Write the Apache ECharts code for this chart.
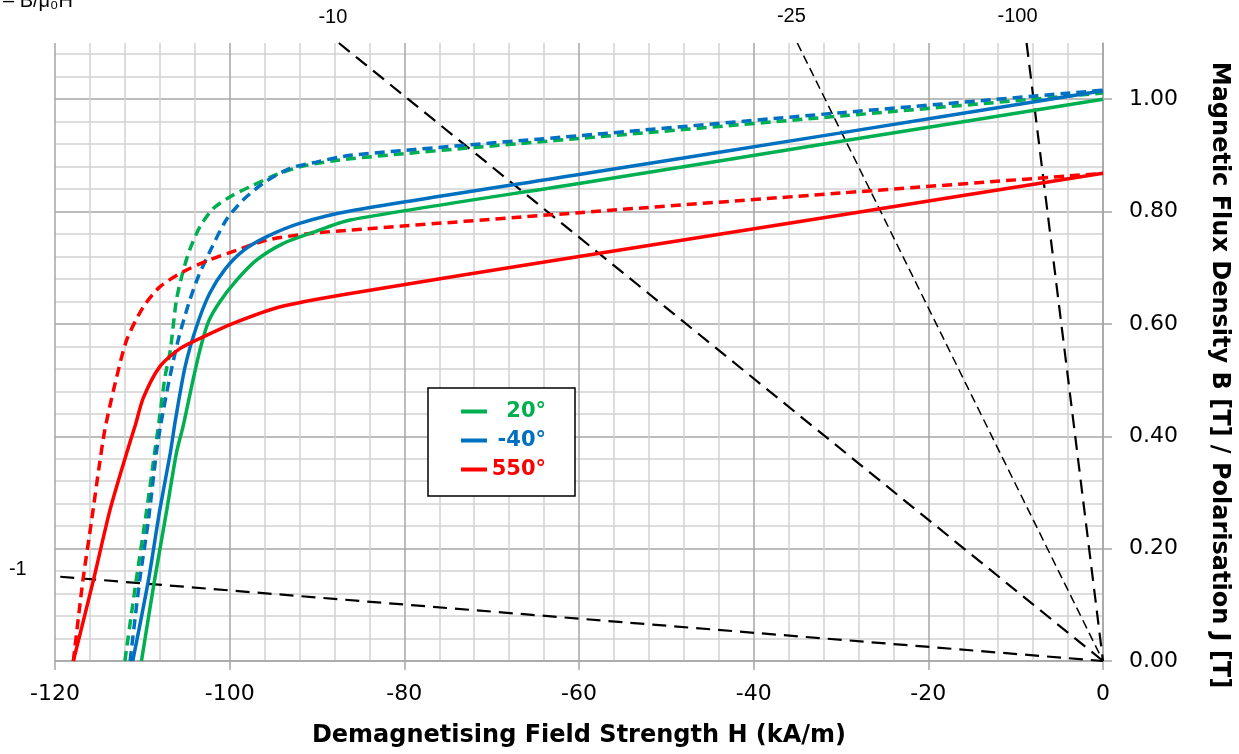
<!DOCTYPE html>
<html>
<head>
<meta charset="utf-8">
<script src="https://cdn.jsdelivr.net/npm/echarts@6/dist/echarts.min.js"></script>
<style>html,body{margin:0;padding:0;background:#fff}#c{width:1239px;height:754px}</style>
</head>
<body>
<div id="c"></div>
<script>
// Tick labels
const xTicks = [-120, -100, -80, -60, -40, -20, 0];
const yTicks = [0, 0.2, 0.4, 0.6, 0.8, 1.0];

// Legend categories (temperatures)
const temps = ['20°', '-40°', '550°'];

// Flux density B (solid) [H kA/m, B T]
const b20 = [[-110.1,0],[-108.6,0.144],[-107.2,0.269],[-106.1,0.37],[-105.3,0.42],[-104.2,0.50],[-103.3,0.56],[-102.4,0.605],[-101.1,0.640],[-99.2,0.678],[-96.9,0.714],[-93.9,0.743],[-90.8,0.761],[-86.2,0.785],[-60,0.85],[-30,0.925],[0,1.0]];
const bm40 = [[-111.1,0],[-109.3,0.144],[-108.0,0.269],[-106.8,0.37],[-106.2,0.43],[-105.1,0.524],[-103.8,0.595],[-102.3,0.654],[-100.5,0.698],[-98.4,0.731],[-95.8,0.755],[-92.0,0.779],[-86.2,0.801],[-60,0.866],[-30,0.940],[0,1.015]];
const b550 = [[-117.9,0],[-115.6,0.144],[-113.7,0.269],[-111.8,0.370],[-110.8,0.42],[-109.9,0.468],[-108.0,0.524],[-105.7,0.556],[-102.6,0.580],[-99.6,0.601],[-94.3,0.630],[-86.2,0.654],[-60,0.720],[-30,0.794],[0,0.868]];

// Polarisation J (dashed)
const j20 = [[-112.0,0],[-110.7,0.144],[-109.5,0.269],[-108.6,0.37],[-108.1,0.425],[-107.4,0.506],[-106.8,0.553],[-106.1,0.642],[-105.4,0.69],[-104.6,0.731],[-103.4,0.773],[-101.9,0.805],[-100.0,0.826],[-97.7,0.844],[-94.6,0.866],[-91.6,0.881],[-86.2,0.894],[-60,0.930],[-30,0.970],[0,1.011]];
const jm40 = [[-111.4,0],[-110.3,0.144],[-109.3,0.251],[-108.4,0.37],[-107.9,0.42],[-107.0,0.494],[-105.9,0.571],[-104.7,0.636],[-103.6,0.684],[-102.2,0.731],[-100.4,0.785],[-98.5,0.820],[-96.2,0.850],[-93.1,0.877],[-90.1,0.888],[-86.2,0.900],[-60,0.935],[-30,0.976],[0,1.016]];
const j550 = [[-117.9,0],[-116.8,0.144],[-115.8,0.251],[-115.0,0.34],[-114.3,0.411],[-113.3,0.482],[-111.8,0.571],[-109.9,0.630],[-108.0,0.666],[-105.3,0.693],[-102.3,0.714],[-99.2,0.731],[-95.8,0.749],[-90.8,0.761],[-86.2,0.767],[-60,0.798],[-30,0.833],[0,0.868]];

// Load lines (permeance coefficient -B/mu0H), endpoints
const loadNames = ['-1', '-10', '-25', '-100'];
const load1 = [[-119.4,0.150],[0,0]];
const load10 = [[-87.5,1.1],[0,0]];
const load25 = [[-35.0,1.1],[0,0]];
const load100 = [[-8.75,1.1],[0,0]];

const GREEN = '#00b050', BLUE = '#0070c0', RED = '#ff0000';
const MAJOR = '#a6a6a6', MINOR = '#d2d2d2';

function gridColors(n) {
  const a = [];
  for (let i = 0; i < n; i++) a.push(i % 5 === 0 ? MAJOR : MINOR);
  return a;
}

function curve(name, data, color, dashed) {
  return {
    name: name, type: 'line', data: data, showSymbol: false, symbol: 'none',
    smooth: 0.25, z: 5, silent: true,
    itemStyle: {color: color},
    lineStyle: {color: color, width: 3.5, type: dashed ? [10, 6] : 'solid', cap: 'butt'}
  };
}

function loadLine(name, data, width, dash, offset, pos) {
  const d = data.map((p, i) => i === 0 ? {
    value: p,
    label: {show: true, formatter: name, position: pos, offset: offset,
      color: '#000', fontSize: 20, fontFamily: 'Liberation Sans'}
  } : p);
  return {
    name: 'P ' + name, type: 'line', data: d, symbol: 'circle', symbolSize: 1, showSymbol: true,
    itemStyle: {color: 'rgba(0,0,0,0)'}, silent: true, z: 3,
    lineStyle: {color: '#000', width: width, type: dash}
  };
}

const chart = echarts.init(document.getElementById('c'));
const legendRich = c => ({t: {width: 54, align: 'right', color: c, fontSize: 21, fontWeight: 'bold', fontFamily: 'DejaVu Sans'}});
const hidden = {axisLine: {show: false}, axisTick: {show: false}, axisLabel: {show: false}};

chart.setOption({
  backgroundColor: '#fff',
  animation: false,
  grid: {left: 55, right: 135, top: 43, bottom: 93},
  legend: {
    orient: 'vertical', left: 428, top: 388,
    padding: [13, 29, 16, 33], itemGap: 8, itemWidth: 26, itemHeight: 4, icon: 'rect',
    borderColor: '#000', borderWidth: 1.5, backgroundColor: '#fff',
    formatter: n => '{t|' + n + '}',
    textStyle: {fontSize: 21, fontWeight: 'bold', fontFamily: 'DejaVu Sans'},
    data: [
      {name: temps[0], textStyle: {color: GREEN, rich: legendRich(GREEN)}},
      {name: temps[1], textStyle: {color: BLUE, rich: legendRich(BLUE)}},
      {name: temps[2], textStyle: {color: RED, rich: legendRich(RED)}}
    ]
  },
  xAxis: [{
    type: 'value', min: -120, max: 0, interval: 20, position: 'bottom', z: 3,
    name: 'Demagnetising Field Strength H (kA/m)', nameLocation: 'middle', nameGap: 63,
    nameTextStyle: {fontSize: 24, fontWeight: 'bold', fontFamily: 'DejaVu Sans', color: '#000'},
    axisLine: {show: true, onZero: false, lineStyle: {color: MAJOR, width: 1.5}},
    axisTick: {show: true, customValues: xTicks, length: 9, lineStyle: {color: MAJOR, width: 1.5}},
    axisLabel: {customValues: xTicks, fontSize: 22, fontFamily: 'DejaVu Sans', color: '#000', margin: 22},
    splitLine: {show: false}
  }, Object.assign({
    type: 'value', min: -120, max: 0, interval: 4, position: 'bottom', z: 1,
    splitLine: {show: true, lineStyle: {color: gridColors(31), width: 1.5}}
  }, hidden)],
  yAxis: [{
    type: 'value', position: 'right', min: 0, max: 1.1, interval: 0.2, z: 3,
    name: 'Magnetic Flux Density B [T] / Polarisation J [T]', nameLocation: 'middle', nameGap: 104, nameRotate: -90,
    nameTextStyle: {fontSize: 24, fontWeight: 'bold', fontFamily: 'DejaVu Sans', color: '#000', padding: [0, 0, 0, 46]},
    axisLine: {show: true, onZero: false, lineStyle: {color: MAJOR, width: 1.5}},
    axisTick: {show: true, customValues: yTicks, length: 9, lineStyle: {color: MAJOR, width: 1.5}},
    axisLabel: {customValues: yTicks, formatter: v => v.toFixed(2), fontSize: 22, fontFamily: 'DejaVu Sans', color: '#000', margin: 26},
    splitLine: {show: false}
  }, Object.assign({
    type: 'value', position: 'right', min: 0, max: 1.1, interval: 0.04, z: 1,
    splitLine: {show: true, showMaxLine: false, lineStyle: {color: gridColors(29), width: 1.5}}
  }, hidden)],
  graphic: [{
    type: 'text', left: 3, top: -9,
    style: {text: '– B/μ₀H', fontSize: 20, fontFamily: 'Liberation Sans, DejaVu Sans', fill: '#000'}
  }],
  series: [
    loadLine(loadNames[0], load1, 2.2, [14, 8], [-28, -7], 'left'),
    loadLine(loadNames[1], load10, 2.2, [14, 8], [-6, -10], 'top'),
    loadLine(loadNames[2], load25, 1.5, [9, 5], [-6, -11], 'top'),
    loadLine(loadNames[3], load100, 2.2, [14, 8], [-9, -11], 'top'),
    curve('J ' + temps[0], j20, GREEN, true),
    curve('J ' + temps[1], jm40, BLUE, true),
    curve('J ' + temps[2], j550, RED, true),
    curve(temps[0], b20, GREEN, false),
    curve(temps[1], bm40, BLUE, false),
    curve(temps[2], b550, RED, false)
  ]
});
</script>
</body>
</html>
